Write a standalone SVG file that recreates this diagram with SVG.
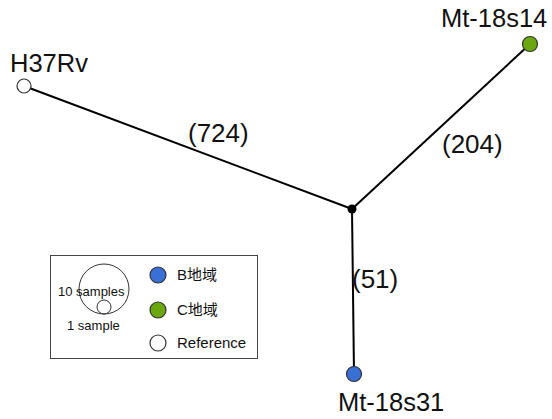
<svg xmlns="http://www.w3.org/2000/svg" width="552" height="419" viewBox="0 0 552 419">
  <style>
    .edge { stroke: #000; stroke-width: 2; fill: none; }
    .lbl { font-family: "Liberation Sans", Arial, sans-serif; fill: #111; }
    .big { font-size: 25.5px; }
    .elbl { font-size: 26px; }
    .leg { font-size: 15px; }
    .small { font-size: 13px; }
    .node { stroke: #333; stroke-width: 1.2; }
    .b { fill: #3a6fd6; }
    .c { fill: #6aa80e; }
    .r { fill: #fff; }
    .cjk { font-family: "Noto Sans CJK JP", sans-serif; }
  </style>
  <rect width="552" height="419" fill="#fff"/>

  <!-- tree branches with distance labels -->
  <g id="edges">
    <line class="edge" x1="24" y1="86" x2="352" y2="209"/>
    <line class="edge" x1="530" y1="44" x2="352" y2="209"/>
    <line class="edge" x1="352" y1="209" x2="354" y2="374"/>
    <text class="lbl elbl" x="188" y="142">(724)</text>
    <text class="lbl elbl" x="442" y="153">(204)</text>
    <text class="lbl elbl" x="352" y="288">(51)</text>
  </g>

  <g id="junction">
    <circle cx="352" cy="209" r="4.5" fill="#000"/>
  </g>

  <g id="h37rv">
    <circle class="node r" cx="24" cy="86" r="7"/>
    <text class="lbl big" x="10" y="72">H37Rv</text>
  </g>

  <g id="mt18s14">
    <circle class="node c" cx="530" cy="44" r="7.5"/>
    <text class="lbl big" x="441" y="27">Mt-18s14</text>
  </g>

  <g id="mt18s31">
    <circle class="node b" cx="354" cy="374" r="7.5"/>
    <text class="lbl big" x="338" y="411">Mt-18s31</text>
  </g>

  <!-- legend -->
  <g id="legend">
    <rect x="50.5" y="255.5" width="207" height="103" fill="#fff" stroke="#444" stroke-width="1"/>
    <circle cx="104" cy="289" r="25" fill="none" stroke="#333" stroke-width="1"/>
    <circle cx="104" cy="307" r="7" fill="none" stroke="#333" stroke-width="1"/>
    <text class="lbl small" x="58" y="296">10 samples</text>
    <text class="lbl small" x="67" y="330">1 sample</text>
    <circle class="node b" cx="158" cy="275" r="8"/>
    <circle class="node c" cx="158" cy="310" r="8"/>
    <circle class="node r" cx="158" cy="343" r="8"/>
    <text class="lbl leg" x="177" y="280">B<tspan class="cjk">地域</tspan></text>
    <text class="lbl leg" x="177" y="315">C<tspan class="cjk">地域</tspan></text>
    <text class="lbl leg" x="177" y="348">Reference</text>
  </g>
</svg>
